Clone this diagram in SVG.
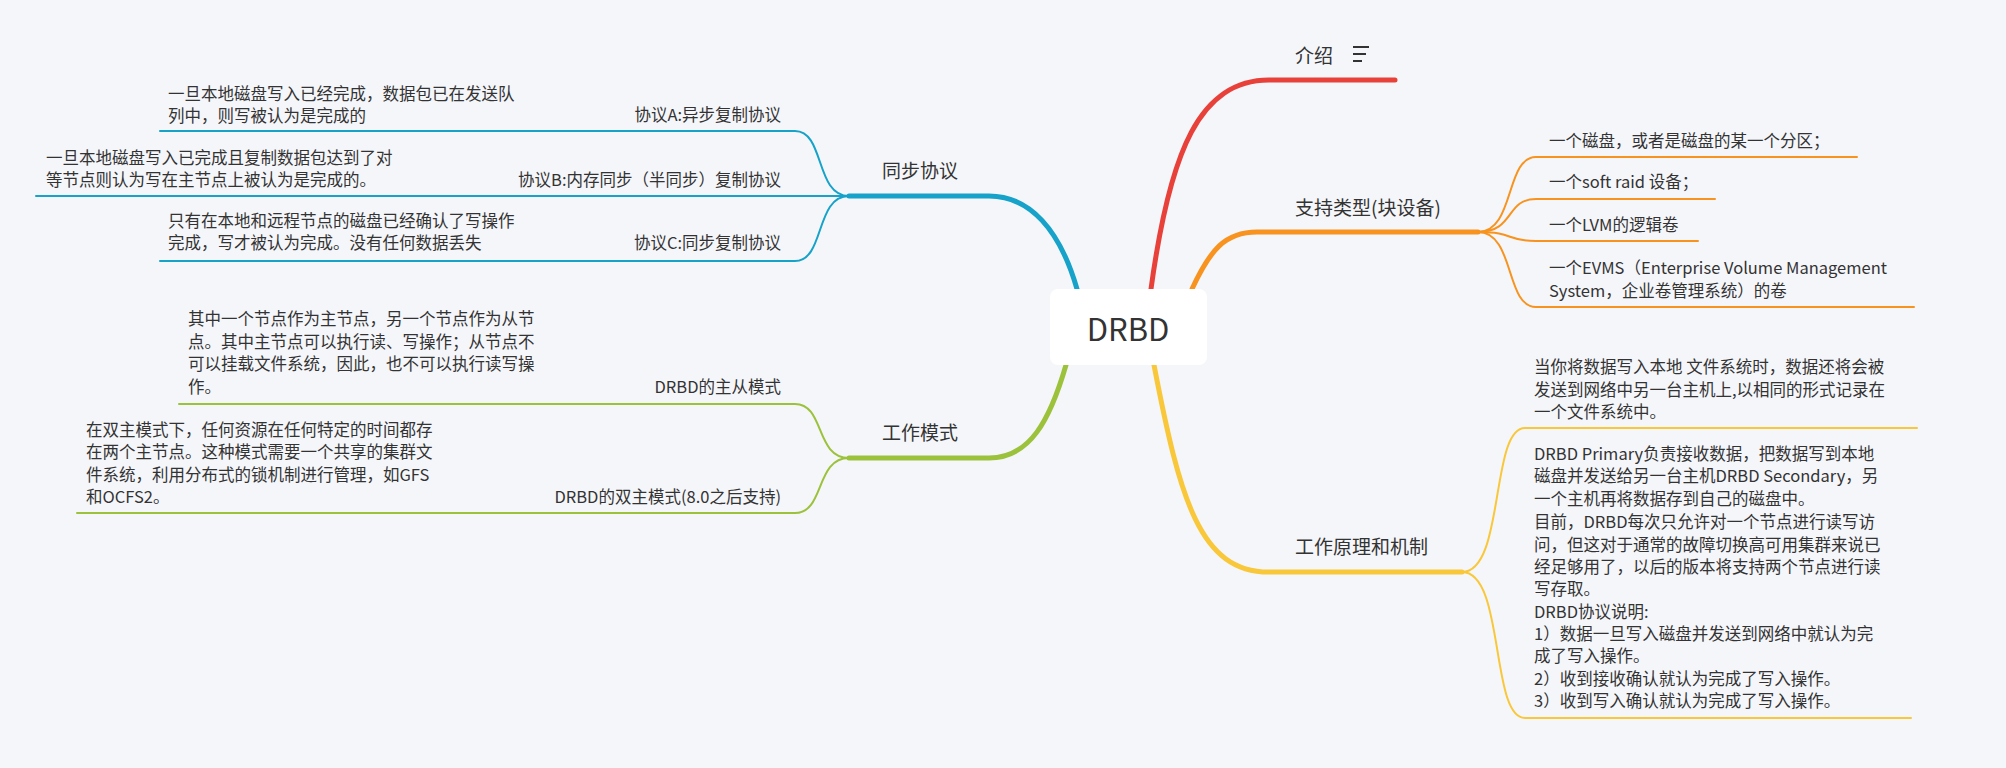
<svg xmlns="http://www.w3.org/2000/svg" width="2006" height="768" viewBox="0 0 2006 768">
<style>
text{font-family:"Noto Sans CJK SC","Noto Sans",sans-serif;fill:#333;dominant-baseline:central}
.m{font-size:19px}.s{font-size:16.5px}.r{text-anchor:end}
.c path{fill:none;stroke-linecap:round}
.b{stroke-width:5}.l{stroke-width:2}
</style>
<rect width="2006" height="768" fill="#f5f6fa"/>
<g class="c" id="connectors">
<path class="b" stroke="#e8413a" d="M1151,289 C1170,150 1200,80 1269,80 L1395,80"/>
<path class="b" stroke="#f7931e" d="M1192,289 C1210,250 1225,232 1257,232 L1478,232"/>
<path class="b" stroke="#f9c73a" d="M1154,365 C1180,500 1200,572 1269,572 L1462,572"/>
<path class="b" stroke="#17a2c9" d="M1077,289 C1060,230 1030,196 989,196 L849,196"/>
<path class="b" stroke="#9cc23c" d="M1066,365 C1050,420 1030,458 989,458 L849,458"/>
<g stroke="#f7931e">
<path class="l" d="M1478,232 C1515,232 1505,157 1536,157 L1857,157"/>
<path class="l" d="M1478,232 C1515,232 1505,199 1536,199 L1715,199"/>
<path class="l" d="M1478,232 C1515,232 1505,241 1536,241 L1698,241"/>
<path class="l" d="M1478,232 C1515,232 1505,307 1536,307 L1914,307"/>
</g>
<g stroke="#f9c73a">
<path class="l" d="M1462,572 C1505,572 1490,428 1525,428 L1917,428"/>
<path class="l" d="M1462,572 C1505,572 1490,718 1525,718 L1911,718"/>
</g>
<g stroke="#17a2c9">
<path class="l" d="M849,196 C815,196 825,131 795,131 L160,131"/>
<path class="l" d="M849,196 L36,196"/>
<path class="l" d="M849,196 C815,196 825,261 795,261 L160,261"/>
</g>
<g stroke="#9cc23c">
<path class="l" d="M849,458 C815,458 825,404 795,404 L179,404"/>
<path class="l" d="M849,458 C815,458 825,513 795,513 L77,513"/>
</g>
</g>
<g id="root">
<rect x="1050" y="289" width="157" height="76" rx="8" fill="#fff"/>
<text x="1128" y="327" font-size="31" text-anchor="middle">DRBD</text>
</g>
<g id="n-intro"><text class="m" x="1295" y="54">介绍</text>
<path d="M1353,47h16M1353,54h13M1353,61h9" stroke="#333" stroke-width="2" fill="none"/></g>
<g id="n-types"><text class="m" x="1295" y="206">支持类型(块设备)</text></g>
<g id="t1"><text class="s" x="1549" y="140">一个磁盘，或者是磁盘的某一个分区；</text></g>
<g id="t2"><text class="s" x="1549" y="181">一个soft raid 设备；</text></g>
<g id="t3"><text class="s" x="1549" y="224">一个LVM的逻辑卷</text></g>
<g id="t4"><text class="s" x="1549" y="267">一个EVMS（Enterprise Volume Management</text><text class="s" x="1549" y="290">System，企业卷管理系统）的卷</text></g>
<g id="n-mech"><text class="m" x="1295" y="545">工作原理和机制</text></g>
<g id="m1"><text class="s" x="1534" y="366">当你将数据写入本地 文件系统时，数据还将会被</text><text class="s" x="1534" y="389">发送到网络中另一台主机上,以相同的形式记录在</text><text class="s" x="1534" y="411">一个文件系统中。</text></g>
<g id="m2">
<text class="s" x="1534" y="453">DRBD Primary负责接收数据，把数据写到本地</text>
<text class="s" x="1534" y="475">磁盘并发送给另一台主机DRBD Secondary，另</text>
<text class="s" x="1534" y="498">一个主机再将数据存到自己的磁盘中。</text>
<text class="s" x="1534" y="521">目前，DRBD每次只允许对一个节点进行读写访</text>
<text class="s" x="1534" y="544">问，但这对于通常的故障切换高可用集群来说已</text>
<text class="s" x="1534" y="566">经足够用了，以后的版本将支持两个节点进行读</text>
<text class="s" x="1534" y="588">写存取。</text>
<text class="s" x="1534" y="611">DRBD协议说明:</text>
<text class="s" x="1534" y="633">1）数据一旦写入磁盘并发送到网络中就认为完</text>
<text class="s" x="1534" y="655">成了写入操作。</text>
<text class="s" x="1534" y="678">2）收到接收确认就认为完成了写入操作。</text>
<text class="s" x="1534" y="700">3）收到写入确认就认为完成了写入操作。</text>
</g>
<g id="n-sync"><text class="m" x="882" y="169">同步协议</text></g>
<g id="pa"><text class="s r" x="781" y="114">协议A:异步复制协议</text></g>
<g id="pad"><text class="s" x="168" y="93">一旦本地磁盘写入已经完成，数据包已在发送队</text><text class="s" x="168" y="115">列中，则写被认为是完成的</text></g>
<g id="pb"><text class="s r" x="781" y="179">协议B:内存同步（半同步）复制协议</text></g>
<g id="pbd"><text class="s" x="46" y="157">一旦本地磁盘写入已完成且复制数据包达到了对</text><text class="s" x="46" y="179">等节点则认为写在主节点上被认为是完成的。</text></g>
<g id="pc"><text class="s r" x="781" y="242">协议C:同步复制协议</text></g>
<g id="pcd"><text class="s" x="168" y="220">只有在本地和远程节点的磁盘已经确认了写操作</text><text class="s" x="168" y="242">完成，写才被认为完成。没有任何数据丢失</text></g>
<g id="n-mode"><text class="m" x="882" y="431">工作模式</text></g>
<g id="w1"><text class="s r" x="781" y="386">DRBD的主从模式</text></g>
<g id="w1d"><text class="s" x="188" y="318">其中一个节点作为主节点，另一个节点作为从节</text><text class="s" x="188" y="341">点。其中主节点可以执行读、写操作；从节点不</text><text class="s" x="188" y="363">可以挂载文件系统，因此，也不可以执行读写操</text><text class="s" x="188" y="386">作。</text></g>
<g id="w2"><text class="s r" x="781" y="496">DRBD的双主模式(8.0之后支持)</text></g>
<g id="w2d"><text class="s" x="86" y="429">在双主模式下，任何资源在任何特定的时间都存</text><text class="s" x="86" y="451">在两个主节点。这种模式需要一个共享的集群文</text><text class="s" x="86" y="474">件系统，利用分布式的锁机制进行管理，如GFS</text><text class="s" x="86" y="496">和OCFS2。</text></g>
</svg>
